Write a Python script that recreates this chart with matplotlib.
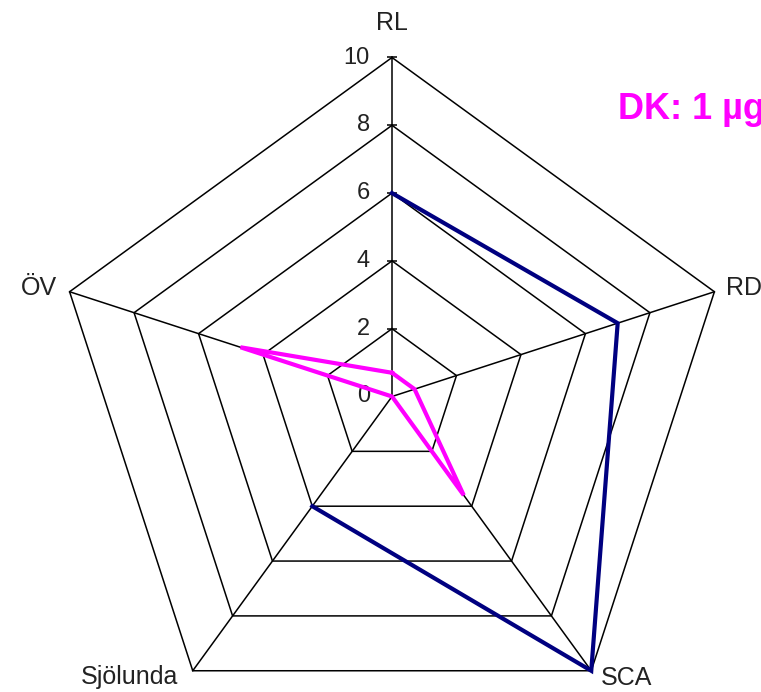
import numpy as np
import matplotlib
matplotlib.use("Agg")
import matplotlib.pyplot as plt

plt.rcParams['font.family'] = ['Liberation Sans', 'DejaVu Sans']

# data
categories = ['RL', 'RD', 'SCA', 'Sjölunda', 'ÖV']
navy_vals = [6, 7, 10, 4, np.nan]
magenta_vals = [0.7, 0.7, 3.6, 0, 4.7]
levels = [2, 4, 6, 8, 10]
tick_labels = ['0', '2', '4', '6', '8', '10']
note_text = 'DK: 1 µg'

W, H, DPI = 761, 692, 100
cx, cy, R = 392.0, 396.5, 339.0      # pixel centre and radius of the 10 ring
unit = R / 10.0

fig = plt.figure(figsize=(W / DPI, H / DPI), dpi=DPI)
ax = fig.add_axes([0, 0, 1, 1])
ax.set_xlim(-cx / unit, (W - cx) / unit)
ax.set_ylim(-(H - cy) / unit, cy / unit)
ax.axis('off')

n = len(categories)
ang = np.deg2rad(90 - 360.0 / n * np.arange(n))


def xy(vals):
    v = np.asarray(vals, dtype=float)
    v = np.append(v, v[0])
    a = np.append(ang, ang[0])
    return v * np.cos(a), v * np.sin(a)


# grid rings and spokes
for lv in levels:
    gx, gy = xy([lv] * n)
    ax.plot(gx, gy, color='black', lw=1.1, zorder=1)
for a in ang:
    ax.plot([0, 10 * np.cos(a)], [0, 10 * np.sin(a)], color='black', lw=1.1, zorder=1)

# tick marks + labels on the RL axis
ax.plot([0] * len(levels), levels, ls='none', marker='_', ms=7, mew=1.1, color='black')
for i, t in enumerate(tick_labels):
    ax.annotate(t, (0, 2 * i), xytext=(-22, 0), textcoords='offset pixels',
                ha='right', va='center', fontsize=17, color='#222222')

# series
nx, ny = xy(navy_vals)
ax.plot(nx, ny, color='#000080', lw=3.0, solid_joinstyle='miter', zorder=3)
mx, my = xy(magenta_vals)
ax.plot(mx, my, color='#FF00FF', lw=3.0, solid_joinstyle='miter', zorder=3)

# category labels
offs = [(0, 34, 'center'), (12, 4, 'left'), (10, -7, 'left'),
        (-15, -6, 'right'), (-13, 4, 'right')]
for name, a, (dx, dy, ha) in zip(categories, ang, offs):
    ax.annotate(name, (10 * np.cos(a), 10 * np.sin(a)), xytext=(dx, dy),
                textcoords='offset pixels', ha=ha, va='center',
                fontsize=18, color='#222222')

fig.text(618 / W, 1 - 119 / H, note_text, color='#FF00FF', fontsize=26,
         fontweight='bold', ha='left', va='baseline')

fig.savefig('out.png', dpi=DPI)
